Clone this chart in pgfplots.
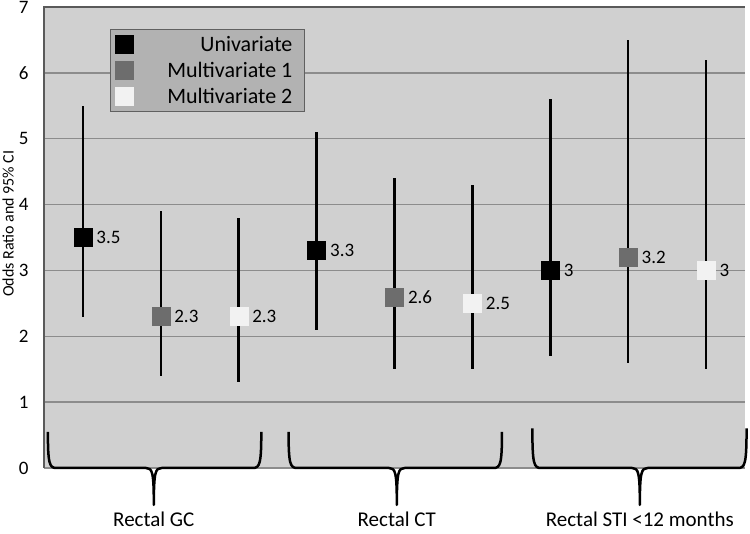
\documentclass[border=0pt]{standalone}
\usepackage{pgfplots}
\pgfplotsset{compat=1.18}
\usepackage{pgfplotstable}
\usepackage{fontspec}
\setmainfont{Carlito}

\definecolor{bg}{HTML}{D0D0D0}
\definecolor{gridc}{HTML}{8C8C8C}
\definecolor{axisc}{HTML}{5A5A5A}
\definecolor{legbg}{HTML}{B2B2B2}
\definecolor{legdraw}{HTML}{606060}
\definecolor{mone}{HTML}{6D6D6D}
\definecolor{mtwo}{HTML}{F2F2F2}

% odds ratio, CI given as distance above (ep) and below (em)
\pgfplotstableread{
x y ep em lab
1 3.5 2.0 1.2 3.5
4 3.3 1.8 1.2 3.3
7 3.0 2.6 1.3 3
}\uni
\pgfplotstableread{
x y ep em lab
2 2.3 1.6 0.9 2.3
5 2.6 1.8 1.1 2.6
8 3.2 3.3 1.6 3.2
}\mone
\pgfplotstableread{
x y ep em lab
3 2.3 1.5 1.0 2.3
6 2.5 1.8 1.0 2.5
9 3.0 3.2 1.5 3
}\mtwo

\begin{document}
\begin{tikzpicture}
\useasboundingbox (-44pt,-66pt) rectangle (706pt,468pt);
\begin{axis}[
    at={(0,0)}, anchor=south west,
    scale only axis, width=701pt, height=461pt,
    xmin=0.5, xmax=9.5, ymin=0, ymax=7,
    ytick={0,...,7},
    xtick={1.91,5.03,8.15},
    xticklabels={Rectal GC, Rectal CT, Rectal STI <12 months},
    major tick length=0pt,
    ymajorgrids, grid style={draw=gridc, line width=1.5pt},
    axis background/.style={fill=bg},
    axis line style={draw=none},
    clip=false,
    /pgf/number format/assume math mode=true,
    yticklabel style={font=\fontsize{19}{21}\selectfont, xshift=-12pt},
    xticklabel style={font=\fontsize{21}{25}\selectfont, yshift=-42pt, inner ysep=2pt},
    ylabel={Odds Ratio and 95\% CI},
    ylabel style={at={(axis description cs:-0.051,0.53)}, anchor=center,
                  font=\fontsize{16}{18}\selectfont},
    legend style={at={(0.094,0.952)}, anchor=north west, fill=legbg,
                  draw=legdraw, line width=1pt, inner xsep=5pt, inner ysep=6pt,
                  row sep=7pt,
                  font=\fontsize{22}{24}\selectfont,
                  nodes={inner xsep=7pt, inner ysep=1pt}},
    legend cell align=right,
    error bars/error bar style={line width=2.5pt, black},
    nodes near coords, point meta=explicit symbolic,
    nodes near coords style={anchor=west, xshift=10pt, text=black,
                             font=\fontsize{19}{21}\selectfont},
]
\addplot[only marks, mark=square*, mark size=9pt, mark options={fill=black, draw=black},
    error bars/.cd, y dir=both, y explicit, error mark=none]
    table[x=x, y=y, y error plus=ep, y error minus=em, meta=lab] {\uni};
\addplot[only marks, mark=square*, mark size=9pt, mark options={fill=mone, draw=mone},
    error bars/.cd, y dir=both, y explicit, error mark=none]
    table[x=x, y=y, y error plus=ep, y error minus=em, meta=lab] {\mone};
\addplot[only marks, mark=square*, mark size=9pt, mark options={fill=mtwo, draw=mtwo},
    error bars/.cd, y dir=both, y explicit, error mark=none]
    table[x=x, y=y, y error plus=ep, y error minus=em, meta=lab] {\mtwo};

\addlegendimage{legend image code/.code={\fill[black] (0pt,-10.5pt) rectangle (21pt,10.5pt);}}
\addlegendentry{\makebox[152pt][r]{Univariate}}
\addlegendimage{legend image code/.code={\fill[mone] (0pt,-10.5pt) rectangle (21pt,10.5pt);}}
\addlegendentry{\makebox[152pt][r]{Multivariate 1}}
\addlegendimage{legend image code/.code={\fill[mtwo] (0pt,-10.5pt) rectangle (21pt,10.5pt);}}
\addlegendentry{\makebox[152pt][r]{Multivariate 2}}

% frame: left and top only
\draw[axisc, line width=1.5pt] (rel axis cs:0,0) -- (rel axis cs:0,1) -- (rel axis cs:1,1);

% group braces
\draw[line width=2.5pt, line join=round]
  (0.55,0.55) .. controls (0.55,0.06) and (0.57,0) .. (0.66,0) -- (1.81,0)
  .. controls (1.89,0) and (1.91,-0.06) .. (1.91,-0.56)
  .. controls (1.91,-0.06) and (1.93,0) .. (2.01,0) -- (3.18,0)
  .. controls (3.27,0) and (3.29,0.06) .. (3.29,0.55);
\draw[line width=2.5pt, line join=round]
  (3.64,0.55) .. controls (3.64,0.06) and (3.66,0) .. (3.75,0) -- (4.93,0)
  .. controls (5.01,0) and (5.03,-0.06) .. (5.03,-0.56)
  .. controls (5.03,-0.06) and (5.05,0) .. (5.13,0) -- (6.27,0)
  .. controls (6.36,0) and (6.38,0.06) .. (6.38,0.55);
\draw[line width=2.5pt, line join=round]
  (6.77,0.6) .. controls (6.77,0.06) and (6.79,0) .. (6.88,0) -- (8.05,0)
  .. controls (8.13,0) and (8.15,-0.06) .. (8.15,-0.56)
  .. controls (8.15,-0.06) and (8.17,0) .. (8.25,0) -- (9.41,0)
  .. controls (9.50,0) and (9.52,0.06) .. (9.52,0.6);
\end{axis}
\end{tikzpicture}
\end{document}
